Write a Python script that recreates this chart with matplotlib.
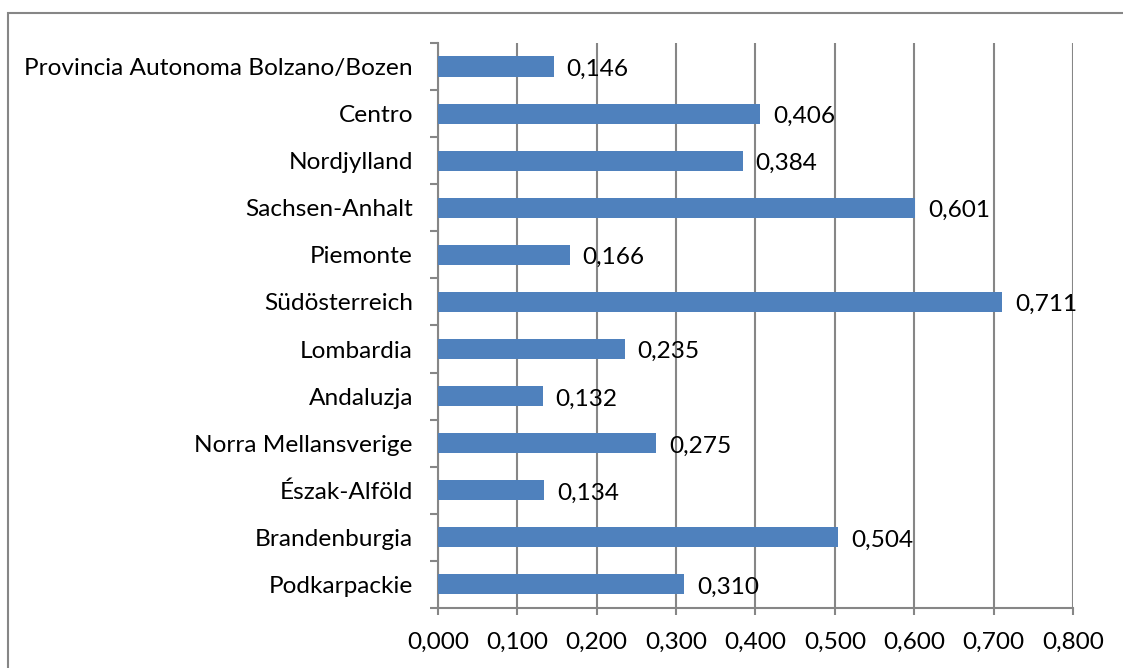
import matplotlib
matplotlib.use("Agg")
import matplotlib.pyplot as plt
from matplotlib.patches import Rectangle
import numpy as np

regions = [
    "Provincia Autonoma Bolzano/Bozen",
    "Centro",
    "Nordjylland",
    "Sachsen-Anhalt",
    "Piemonte",
    "Südösterreich",
    "Lombardia",
    "Andaluzja",
    "Norra Mellansverige",
    "Észak-Alföld",
    "Brandenburgia",
    "Podkarpackie",
]
values = [0.146, 0.406, 0.384, 0.601, 0.166, 0.711, 0.235, 0.132, 0.275, 0.134, 0.504, 0.310]
x_ticks = [0.0, 0.1, 0.2, 0.3, 0.4, 0.5, 0.6, 0.7, 0.8]

BAR = "#4F81BD"
GRID = "#868686"
FS = 17.6

plt.rcParams["font.family"] = ["Lato", "DejaVu Sans"]

fig = plt.figure(figsize=(11.23, 6.68), dpi=100)
ax = fig.add_axes([0.390, 0.090, 0.5655, 0.8455])

n = len(regions)
ypos = np.arange(n)[::-1]
ax.barh(ypos, values, height=0.43, color=BAR, zorder=3)

# value labels, decimal comma like the original
for y, v in zip(ypos, values):
    ax.text(v + 0.016, y - 0.06, f"{v:.3f}".replace(".", ","),
            va="center", ha="left", fontsize=FS, zorder=4)

ax.set_xlim(0, 0.8)
ax.set_ylim(-0.5, n - 0.5)
ax.set_xticks(x_ticks)
ax.set_xticklabels([f"{t:.3f}".replace(".", ",") for t in x_ticks], fontsize=FS)
ax.set_yticks(ypos)
ax.set_yticklabels(regions, fontsize=FS)
ax.set_yticks(np.arange(n + 1) - 0.5, minor=True)

ax.tick_params(axis="y", which="major", length=0, pad=18)
ax.tick_params(axis="y", which="minor", length=6, width=1.5, color=GRID, direction="out")
ax.tick_params(axis="x", which="major", length=5, width=1.5, color=GRID, pad=12)

ax.grid(axis="x", color=GRID, linewidth=1.5, zorder=0)
for side in ("top", "right"):
    ax.spines[side].set_visible(False)
for side in ("left", "bottom"):
    ax.spines[side].set_color(GRID)
    ax.spines[side].set_linewidth(1.5)

# outer chart border
fig.patches.append(Rectangle((8 / 1123, -0.1), 1.2, 1 - 13 / 668 + 0.1,
                             transform=fig.transFigure, fill=False,
                             edgecolor=GRID, linewidth=1.5))

fig.savefig("out.png", dpi=100)
